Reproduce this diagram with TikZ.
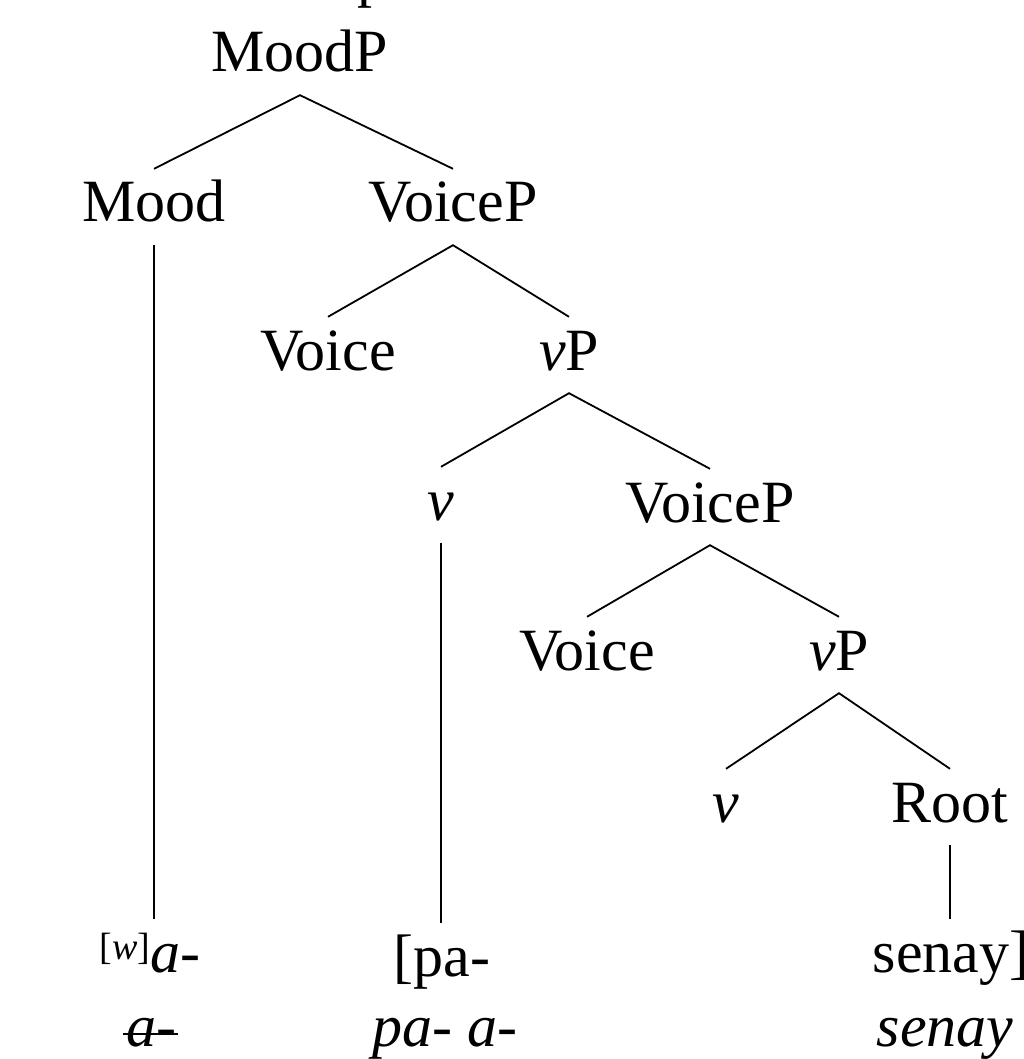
\documentclass[tikz,border=0pt]{standalone}
\usepackage{fontspec}
\setmainfont{Liberation Serif}
\begin{document}
\begin{tikzpicture}[x=1pt,y=-1pt,
  lab/.style={anchor=base,inner xsep=0pt,inner ysep=11pt,text height=42pt,text depth=12pt,font=\fontsize{60}{72}\selectfont},
  gloss/.style={anchor=base,inner sep=0pt,font=\fontsize{60}{72}\selectfont\itshape},
  edge/.style={line width=1.8pt}]
\useasboundingbox (0,0) rectangle (1023,1059);
\clip (0,0) rectangle (1023,1059);
\node[anchor=base west,inner sep=0pt,font=\fontsize{60}{72}\selectfont] (top) at (357,-4) {p};
\node[lab] (MoodP) at (300,72) {MoodP};
\node[lab] (Mood) at (154,222) {Mood};
\node[lab] (VoiceP1) at (453,222) {VoiceP};
\node[lab] (Voice1) at (328,370) {Voice};
\node[lab] (vP1) at (569,370) {\textit{v}P};
\node[lab] (v1) at (441,520) {\textit{v}};
\node[lab] (VoiceP2) at (710,522) {VoiceP};
\node[lab] (Voice2) at (587,670) {Voice};
\node[lab] (vP2) at (839,670) {\textit{v}P};
\node[lab] (v2) at (726,822) {\textit{v}};
\node[lab] (Root) at (950,822) {Root};
\node[lab] (leaf1) at (150,972) {\raisebox{13pt}{\fontsize{38}{40}\selectfont[\textit{w}]}\textit{a-}};
\node[lab] (leaf2) at (442,976) {[pa-};
\node[lab] (leaf3) at (951,972) {senay]};
\node[gloss] (g1) at (151,1046) {a-};
\node[gloss] (g2) at (445,1046) {pa- a-};
\node[gloss] (g3) at (945,1046) {senay};
\draw[edge] ([xshift=-3pt,yshift=12pt]g1.base west) -- ([xshift=2pt,yshift=12pt]g1.base east);
\draw[edge] (Mood.north) -- (MoodP.south) -- (VoiceP1.north);
\draw[edge] (Voice1.north) -- (VoiceP1.south) -- (vP1.north);
\draw[edge] (v1.north) -- (vP1.south) -- (VoiceP2.north);
\draw[edge] (Voice2.north) -- (VoiceP2.south) -- (vP2.north);
\draw[edge] (v2.north) -- (vP2.south) -- (Root.north);
\draw[edge] (Mood.south) -- (Mood.south |- leaf1.north);
\draw[edge] (v1.south) -- (v1.south |- leaf2.north);
\draw[edge] (Root.south) -- (Root.south |- leaf3.north);
\end{tikzpicture}
\end{document}
